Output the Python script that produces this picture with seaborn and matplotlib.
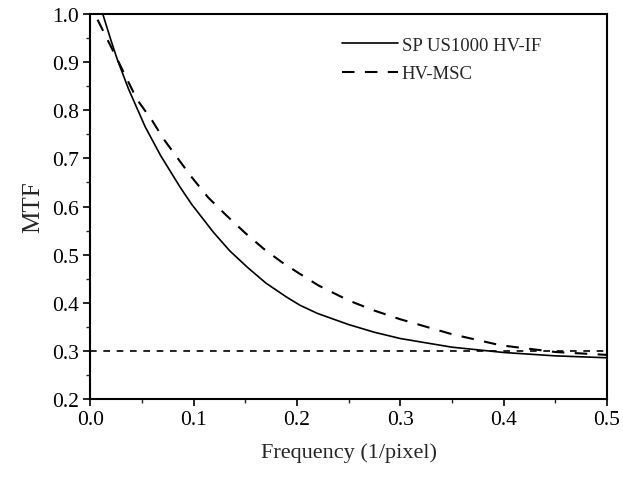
import matplotlib
matplotlib.use("Agg")
import matplotlib.pyplot as plt
import seaborn as sns
import pandas as pd

# MTF curves
freq_if = [0.012, 0.020, 0.026, 0.037, 0.053, 0.068, 0.087, 0.098, 0.119, 0.135,
           0.152, 0.170, 0.190, 0.203, 0.220, 0.25, 0.275, 0.30, 0.35, 0.40, 0.45, 0.50]
mtf_if = [1.000, 0.945, 0.906, 0.844, 0.766, 0.706, 0.640, 0.605, 0.547, 0.508,
          0.474, 0.441, 0.412, 0.395, 0.378, 0.355, 0.339, 0.326, 0.308, 0.297, 0.290, 0.286]

freq_msc = [0.007, 0.026, 0.045, 0.060, 0.071, 0.097, 0.114, 0.132, 0.150, 0.168,
            0.185, 0.203, 0.221, 0.25, 0.275, 0.30, 0.35, 0.397, 0.45, 0.50]
mtf_msc = [0.988, 0.906, 0.823, 0.778, 0.740, 0.664, 0.619, 0.581, 0.545, 0.512,
           0.485, 0.460, 0.436, 0.405, 0.384, 0.366, 0.335, 0.312, 0.298, 0.292]

threshold = 0.3
labels = ["SP US1000 HV-IF", "HV-MSC"]

df_if = pd.DataFrame({"freq": freq_if, "mtf": mtf_if})
df_msc = pd.DataFrame({"freq": freq_msc, "mtf": mtf_msc})

sns.set_style("ticks")
plt.rcParams["font.family"] = ["Liberation Serif", "DejaVu Serif"]

fig = plt.figure(figsize=(6.23, 4.81), dpi=100)
ax = fig.add_axes([0.145, 0.168, 0.829, 0.801])

sns.lineplot(data=df_if, x="freq", y="mtf", ax=ax, color="black", linewidth=1.2,
             label=labels[0])
sns.lineplot(data=df_msc, x="freq", y="mtf", ax=ax, color="black", linewidth=1.5,
             linestyle=(0, (6, 5)), label=labels[1])
ax.axhline(threshold, color="black", linewidth=1.2, linestyle=(0, (4, 4)))

ax.set_xlim(0.0, 0.5)
ax.set_ylim(0.2, 1.0)
ax.set_xticks([0.0, 0.1, 0.2, 0.3, 0.4, 0.5])
ax.set_yticks([0.2, 0.3, 0.4, 0.5, 0.6, 0.7, 0.8, 0.9, 1.0])
ax.set_xticks([0.05, 0.15, 0.25, 0.35, 0.45], minor=True)
ax.set_yticks([0.25, 0.35, 0.45, 0.55, 0.65, 0.75, 0.85, 0.95], minor=True)
ax.xaxis.set_major_formatter(matplotlib.ticker.FormatStrFormatter("%.1f"))
ax.yaxis.set_major_formatter(matplotlib.ticker.FormatStrFormatter("%.1f"))
ax.tick_params(which="major", direction="out", length=5, width=1.2, labelsize=15.5,
               colors="black", pad=3)
ax.tick_params(which="minor", direction="out", length=3, width=1.0)

for s in ax.spines.values():
    s.set_linewidth(1.5)
    s.set_color("black")

ax.set_xlabel("Frequency (1/pixel)", fontsize=16, labelpad=9)
ax.set_ylabel("MTF", fontsize=18, labelpad=6)

ax.legend(loc="upper right", bbox_to_anchor=(0.905, 0.985), frameon=False,
          fontsize=13.5, handlelength=3.0, handletextpad=0.2, labelspacing=0.6)

fig.savefig("out.png", dpi=100)
